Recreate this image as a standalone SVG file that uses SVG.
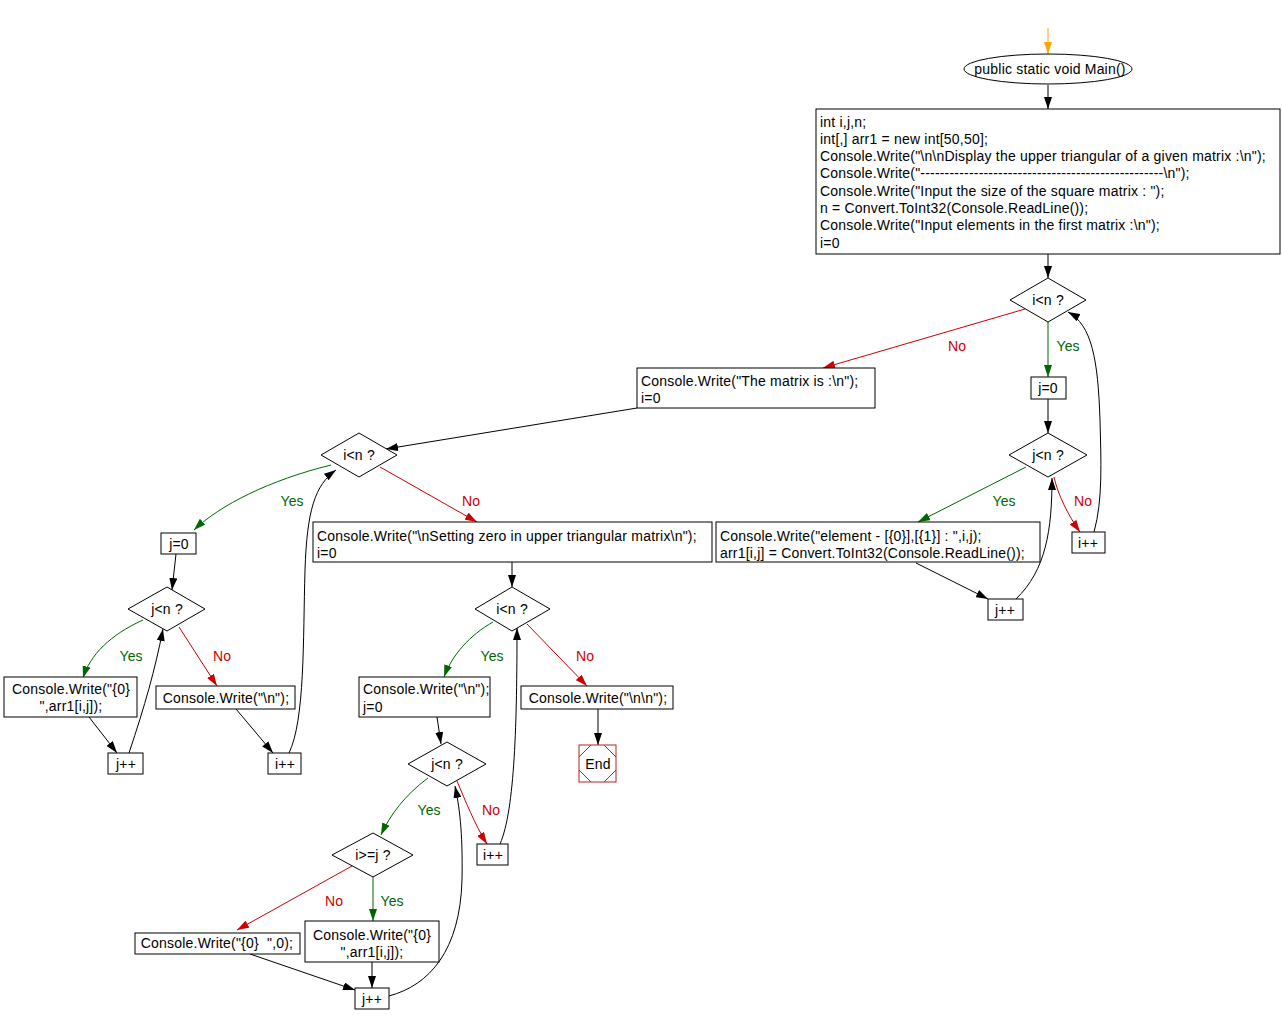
<svg xmlns="http://www.w3.org/2000/svg" width="1282" height="1025" viewBox="0 0 1282 1025">
<style>
.n{fill:#fff;stroke:#000;stroke-width:1}
.t{font-family:"Liberation Sans",Arial,sans-serif;font-size:14px;letter-spacing:0.2px;fill:#000}
.c{text-anchor:middle}
.k{fill:none;stroke:#000;stroke-width:1}
.g{fill:none;stroke:#006600;stroke-width:1}
.r{fill:none;stroke:#cc0000;stroke-width:1}
.o{fill:none;stroke:#ffa500;stroke-width:1}
.ly{font-family:"Liberation Sans",Arial,sans-serif;font-size:14px;fill:#006600}
.ln{font-family:"Liberation Sans",Arial,sans-serif;font-size:14px;fill:#cc0000}
</style>
<defs>
<marker id="ak" viewBox="0 0 12 8" refX="12" refY="4" markerWidth="12" markerHeight="8" markerUnits="userSpaceOnUse" orient="auto"><path d="M0,0L12,4L0,8z" fill="#000"/></marker>
<marker id="ag" viewBox="0 0 12 8" refX="12" refY="4" markerWidth="12" markerHeight="8" markerUnits="userSpaceOnUse" orient="auto"><path d="M0,0L12,4L0,8z" fill="#006600"/></marker>
<marker id="ar" viewBox="0 0 12 8" refX="12" refY="4" markerWidth="12" markerHeight="8" markerUnits="userSpaceOnUse" orient="auto"><path d="M0,0L12,4L0,8z" fill="#cc0000"/></marker>
<marker id="ao" viewBox="0 0 12 8" refX="12" refY="4" markerWidth="12" markerHeight="8" markerUnits="userSpaceOnUse" orient="auto"><path d="M0,0L12,4L0,8z" fill="#ffa500"/></marker>
</defs>
<rect width="1282" height="1025" fill="#fff"/>
<g id="connectors">
<path class="o" d="M1048,28L1048,54" marker-end="url(#ao)"/>
<path class="k" d="M1048,85L1048,109" marker-end="url(#ak)"/>
<path class="k" d="M1048,254L1048,278" marker-end="url(#ak)"/>
<path class="g" d="M1048,322L1048,377" marker-end="url(#ag)"/>
<path class="k" d="M1048,399L1048,433" marker-end="url(#ak)"/>
<path class="g" d="M1026,467L918,522" marker-end="url(#ag)"/>
<path class="r" d="M1054,477C1058,495 1068,515 1080,532" marker-end="url(#ar)"/>
<path class="k" d="M1094,532C1103,500 1101,460 1100,420C1098,360 1092,325 1068,312" marker-end="url(#ak)"/>
<path class="k" d="M916,563L988,599" marker-end="url(#ak)"/>
<path class="k" d="M1016,599C1046,570 1052,530 1052,478" marker-end="url(#ak)"/>
<path class="r" d="M1025,309L823,368" marker-end="url(#ar)"/>
<path class="k" d="M637,408L386,449" marker-end="url(#ak)"/>
<path class="g" d="M331,465C270,480 220,505 194,530" marker-end="url(#ag)"/>
<path class="k" d="M176,554L172,590" marker-end="url(#ak)"/>
<path class="g" d="M143,620C110,635 90,655 83,678" marker-end="url(#ag)"/>
<path class="k" d="M89,717L117,753" marker-end="url(#ak)"/>
<path class="k" d="M129,753C145,705 155,670 163,629" marker-end="url(#ak)"/>
<path class="r" d="M179,627L217,686" marker-end="url(#ar)"/>
<path class="k" d="M236,709L273,753" marker-end="url(#ak)"/>
<path class="k" d="M289,753C305,720 303,640 305,570C307,510 315,485 336,470" marker-end="url(#ak)"/>
<path class="r" d="M380,467L477,522" marker-end="url(#ar)"/>
<path class="k" d="M512,562L512,587" marker-end="url(#ak)"/>
<path class="g" d="M493,622C470,635 452,655 444,677" marker-end="url(#ag)"/>
<path class="r" d="M527,624L587,686" marker-end="url(#ar)"/>
<path class="k" d="M598,709L598,745" marker-end="url(#ak)"/>
<path class="k" d="M437,717L441,744" marker-end="url(#ak)"/>
<path class="g" d="M428,778C405,795 390,815 381,835" marker-end="url(#ag)"/>
<path class="r" d="M457,781C465,800 475,825 487,844" marker-end="url(#ar)"/>
<path class="k" d="M500,844C515,810 517,720 517,628" marker-end="url(#ak)"/>
<path class="g" d="M373,877L373,921" marker-end="url(#ag)"/>
<path class="r" d="M352,866L237,930" marker-end="url(#ar)"/>
<path class="k" d="M250,954L355,990" marker-end="url(#ak)"/>
<path class="k" d="M372,962L372,988" marker-end="url(#ak)"/>
<path class="k" d="M389,996C430,985 460,950 462,880C463,830 459,805 455,786" marker-end="url(#ak)"/>
<text class="ln" x="957" y="351" text-anchor="middle">No</text>
<text class="ly" x="1068" y="351" text-anchor="middle">Yes</text>
<text class="ly" x="1004" y="506" text-anchor="middle">Yes</text>
<text class="ln" x="1083" y="506" text-anchor="middle">No</text>
<text class="ly" x="292" y="506" text-anchor="middle">Yes</text>
<text class="ln" x="471" y="506" text-anchor="middle">No</text>
<text class="ly" x="131" y="661" text-anchor="middle">Yes</text>
<text class="ln" x="222" y="661" text-anchor="middle">No</text>
<text class="ly" x="492" y="661" text-anchor="middle">Yes</text>
<text class="ln" x="585" y="661" text-anchor="middle">No</text>
<text class="ly" x="429" y="815" text-anchor="middle">Yes</text>
<text class="ln" x="491" y="815" text-anchor="middle">No</text>
<text class="ln" x="334" y="906" text-anchor="middle">No</text>
<text class="ly" x="392" y="906" text-anchor="middle">Yes</text>
</g>
<g id="start"><ellipse class="n" cx="1048" cy="69" rx="84" ry="15"/><text class="t c" x="1050" y="74">public static void Main()</text></g>
<g id="init"><rect class="n" x="816" y="109" width="464" height="145"/>
<text class="t" x="820" y="127">int i,j,n;</text>
<text class="t" x="820" y="144">int[,] arr1 = new int[50,50];</text>
<text class="t" x="820" y="161">Console.Write("\n\nDisplay the upper triangular of a given matrix :\n");</text>
<text class="t" x="820" y="178">Console.Write("--------------------------------------------------\n");</text>
<text class="t" x="820" y="196">Console.Write("Input the size of the square matrix : ");</text>
<text class="t" x="820" y="213">n = Convert.ToInt32(Console.ReadLine());</text>
<text class="t" x="820" y="230">Console.Write("Input elements in the first matrix :\n");</text>
<text class="t" x="820" y="248">i=0</text></g>
<g id="d1"><path class="n" d="M1010,300L1048,278L1086,300L1048,322z"/><text class="t c" x="1048" y="305">i&lt;n ?</text></g>
<g id="j0a"><rect class="n" x="1031" y="377" width="35" height="22"/><text class="t c" x="1048" y="393">j=0</text></g>
<g id="d2"><path class="n" d="M1009,455L1048,433L1087,455L1048,477z"/><text class="t c" x="1048" y="460">j&lt;n ?</text></g>
<g id="ipa"><rect class="n" x="1072" y="532" width="33" height="21"/><text class="t c" x="1088" y="548">i++</text></g>
<g id="read"><rect class="n" x="716" y="522" width="324" height="40"/><text class="t" x="720" y="541">Console.Write("element - [{0}],[{1}] : ",i,j);</text><text class="t" x="720" y="558">arr1[i,j] = Convert.ToInt32(Console.ReadLine());</text></g>
<g id="jpa"><rect class="n" x="988" y="599" width="35" height="21"/><text class="t c" x="1005" y="615">j++</text></g>
<g id="mat"><rect class="n" x="637" y="368" width="238" height="40"/><text class="t" x="641" y="386">Console.Write("The matrix is :\n");</text><text class="t" x="641" y="403">i=0</text></g>
<g id="d3"><path class="n" d="M321,455L359,433L397,455L359,477z"/><text class="t c" x="359" y="460">i&lt;n ?</text></g>
<g id="j0b"><rect class="n" x="161" y="533" width="35" height="21"/><text class="t c" x="179" y="549">j=0</text></g>
<g id="d4"><path class="n" d="M128,609L167,587L205,609L167,631z"/><text class="t c" x="167" y="614">j&lt;n ?</text></g>
<g id="pr1"><rect class="n" x="4" y="677" width="133" height="40"/><text class="t c" x="71" y="694">Console.Write("{0}</text><text class="t c" x="71" y="711">",arr1[i,j]);</text></g>
<g id="jpb"><rect class="n" x="108" y="753" width="35" height="21"/><text class="t c" x="126" y="769">j++</text></g>
<g id="nl1"><rect class="n" x="156" y="686" width="139" height="23"/><text class="t c" x="226" y="703">Console.Write("\n");</text></g>
<g id="ipb"><rect class="n" x="268" y="753" width="33" height="21"/><text class="t c" x="285" y="769">i++</text></g>
<g id="zero"><rect class="n" x="313" y="522" width="399" height="40"/><text class="t" x="317" y="541">Console.Write("\nSetting zero in upper triangular matrix\n");</text><text class="t" x="317" y="558">i=0</text></g>
<g id="d5"><path class="n" d="M475,609L512,587L550,609L512,631z"/><text class="t c" x="512" y="614">i&lt;n ?</text></g>
<g id="nl2"><rect class="n" x="359" y="677" width="131" height="40"/><text class="t" x="363" y="694">Console.Write("\n");</text><text class="t" x="363" y="712">j=0</text></g>
<g id="d6"><path class="n" d="M408,764L447,742L486,764L447,786z"/><text class="t c" x="447" y="769">j&lt;n ?</text></g>
<g id="ipc"><rect class="n" x="477" y="844" width="31" height="21"/><text class="t c" x="493" y="860">i++</text></g>
<g id="nl3"><rect class="n" x="521" y="686" width="152" height="23"/><text class="t c" x="598" y="703">Console.Write("\n\n");</text></g>
<g id="end"><rect x="579" y="745" width="37" height="37" fill="#fff" stroke="#b22222"/><path d="M591,745L579,757M604,745L616,757M616,770L604,782M579,770L591,782" fill="none" stroke="#b22222"/><text class="t c" x="598" y="769">End</text></g>
<g id="d7"><path class="n" d="M332,855L373,833L413,855L373,877z"/><text class="t c" x="373" y="860">i&gt;=j ?</text></g>
<g id="pr0"><rect class="n" x="135" y="933" width="165" height="21"/><text class="t c" x="217" y="948" xml:space="preserve">Console.Write("{0}  ",0);</text></g>
<g id="pr2"><rect class="n" x="305" y="921" width="134" height="41"/><text class="t c" x="372" y="940">Console.Write("{0}</text><text class="t c" x="372" y="957">",arr1[i,j]);</text></g>
<g id="jpc"><rect class="n" x="355" y="988" width="34" height="21"/><text class="t c" x="372" y="1004">j++</text></g>
</svg>
